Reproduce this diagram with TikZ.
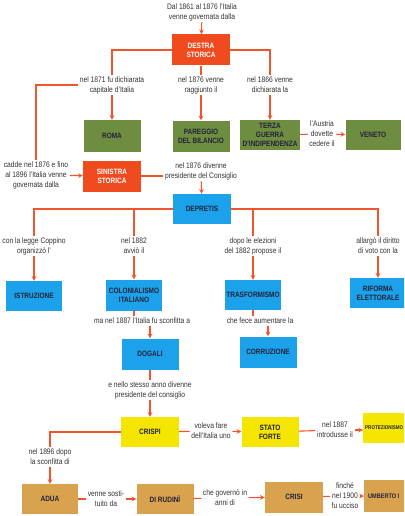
\documentclass[tikz,border=0pt]{standalone}
\usepackage{fontspec}
\setmainfont{Liberation Sans}[FakeStretch=0.84]
\usepackage{xcolor}
\usetikzlibrary{arrows}
\definecolor{rosso}{HTML}{F04B1F}
\definecolor{verdeoliva}{HTML}{6E8D40}
\definecolor{azzurro}{HTML}{1CA2EA}
\definecolor{giallo}{HTML}{F4E600}
\definecolor{ocra}{HTML}{D9A24E}
\definecolor{arancio}{HTML}{F0542A}
\definecolor{scuro}{HTML}{22223A}
\definecolor{grigiotesto}{HTML}{333333}

\begin{document}
\begin{tikzpicture}[x=1pt, y=-1pt,
    every node/.style={font=\fontsize{8}{10}\selectfont, text=grigiotesto},
    box/.style={minimum width=57pt, minimum height=30pt, inner sep=1pt, align=center, text=scuro, font=\fontsize{7.7}{9.2}\selectfont\bfseries},
    boxrossa/.style={box, fill=rosso, text=white},
    boxverde/.style={box, fill=verdeoliva},
    boxazzurra/.style={box, fill=azzurro},
    boxgialla/.style={box, fill=giallo},
    boxocra/.style={box, fill=ocra},
    testo/.style={align=center, inner sep=1.5pt},
    linea/.style={draw=arancio, line width=1.1pt},
    freccia/.style={linea, ->, >=stealth}]
        \useasboundingbox (0,0) rectangle (404,516);
        \clip (0,0) rectangle (404,516);
        \fill[white] (0,0) rectangle (404,516);

        % destra storica
        \node[testo] (inizio) at (202,12) {Dal 1861 al 1876 l'Italia\\venne governata dalla};
        \node[boxrossa, minimum width=58pt, minimum height=31pt] (destra) at (201,50) {DESTRA\\STORICA};
        \node[testo] (l1871) at (112,85) {nel 1871 fu dichiarata\\capitale d'Italia};
        \node[testo] (l1876a) at (201,85) {nel 1876 venne\\raggiunto il};
        \node[testo] (l1866) at (270,85) {nel 1866 venne\\dichiarata la};
        \node[boxverde, minimum height=32pt] (roma) at (112,136) {ROMA};
        \node[boxverde, minimum height=31pt] (pareggio) at (201,136) {PAREGGIO\\DEL BILANCIO};
        \node[boxverde, minimum width=60pt] (terza) at (270,135) {TERZA\\GUERRA\\D'INDIPENDENZA};
        \node[testo] (laustria) at (322,134) {l'Austria\\dovette\\cedere il};
        \node[boxverde, minimum width=55pt] (veneto) at (373,135) {VENETO};

        % sinistra storica e Depretis
        \node[testo] (lcadde) at (36,175) {cadde nel 1876 e fino\\al 1896 l'Italia venne\\governata dalla};
        \node[boxrossa, minimum width=58pt, minimum height=31pt] (sinistra) at (112,176) {SINISTRA\\STORICA};
        \node[testo] (l1876b) at (201,171) {nel 1876 divenne\\presidente del Consiglio};
        \node[boxazzurra, minimum width=58pt] (depretis) at (202,209) {DEPRETIS};
        \node[testo] (lcoppino) at (34,246) {con la legge Coppino\\organizzò l'};
        \node[testo] (l1882a) at (134,246) {nel 1882\\avviò il};
        \node[testo] (ldopo) at (253,246) {dopo le elezioni\\del 1882 propose il};
        \node[testo] (lallargo) at (378,246) {allargò il diritto\\di voto con la};
        \node[boxazzurra, minimum width=56pt] (istruzione) at (34,296) {ISTRUZIONE};
        \node[boxazzurra, minimum width=56pt, minimum height=31pt] (colonialismo) at (134,295) {COLONIALISMO\\ITALIANO};
        \node[boxazzurra, minimum width=56pt] (trasformismo) at (253,295) {TRASFORMISMO};
        \node[boxazzurra, minimum width=56pt] (riforma) at (378,293) {RIFORMA\\ELETTORALE};
        \node[testo] (lsconfitta) at (142,321) {ma nel 1887 l'Italia fu sconfitta a};
        \node[testo] (laumentare) at (260,321) {che fece aumentare la};
        \node[boxazzurra, minimum width=57pt, minimum height=31pt] (dogali) at (150,354) {DOGALI};
        \node[boxazzurra, minimum width=57pt, minimum height=31pt] (corruzione) at (268,352) {CORRUZIONE};

        % Crispi e fine secolo
        \node[testo] (lstesso) at (150,390) {e nello stesso anno divenne\\presidente del consiglio};
        \node[boxgialla, minimum width=58pt] (crispi) at (150,432) {CRISPI};
        \node[testo] (lvoleva) at (211,431) {voleva fare\\dell'Italia uno};
        \node[boxgialla] (stato) at (270,432) {STATO\\FORTE};
        \node[testo] (l1887) at (335,430) {nel 1887\\introdusse il};
        \node[boxgialla, anchor=west, inner xsep=2pt, font=\fontsize{5.4}{7}\selectfont\bfseries] (protezionismo) at (363,428) {PROTEZIONISMO\hspace*{20pt}};
        \node[testo] (l1896) at (50,457) {nel 1896 dopo\\la sconfitta di};
        \node[boxocra, minimum width=56pt] (adua) at (50,499) {ADUA};
        \node[testo] (lsostituito) at (106,499) {venne sosti-\\tuito da};
        \node[boxocra, minimum width=57pt] (dirudini) at (165,499) {DI RUDINÌ};
        \node[testo] (lgoverno) at (225,498) {che governò in\\anni di};
        \node[boxocra, minimum width=58pt, minimum height=31pt] (crisi) at (294,497) {CRISI};
        \node[testo] (lfinche) at (345,496) {finché\\nel 1900\\fu ucciso};
        \node[boxocra, anchor=west, inner xsep=2pt, minimum height=32pt, font=\fontsize{6.6}{8}\selectfont\bfseries] (umberto) at (364,496) {\hspace*{2pt}UMBERTO I\hspace*{20pt}};

        \draw[freccia] (inizio) -- (destra);
        \draw[linea] (destra.west) -| (l1871.north);
        \draw[freccia] (l1871) -- (roma);
        \draw[linea] (destra) -- (l1876a);
        \draw[freccia] (l1876a) -- (pareggio);
        \draw[linea] (destra.east) -| (l1866.north);
        \draw[freccia] (l1866) -- (terza);
        \draw[linea] (terza) -- (laustria);
        \draw[freccia] (laustria) -- (veneto);
        \draw[linea] (l1871.west) -| (lcadde.north);
        \draw[freccia] (lcadde) -- (sinistra);
        \draw[linea] (sinistra.east) -- (sinistra.east -| l1876b.west);
        \draw[freccia] (l1876b) -- (depretis);
        \draw[linea] (depretis.west) -| (lcoppino.north);
        \draw[linea] (depretis.west) -| (l1882a.north);
        \draw[linea] (depretis.east) -| (ldopo.north);
        \draw[linea] (depretis.east) -| (lallargo.north);
        \draw[freccia] (lcoppino) -- (istruzione);
        \draw[freccia] (l1882a) -- (colonialismo);
        \draw[freccia] (ldopo) -- (trasformismo);
        \draw[freccia] (lallargo) -- (riforma);
        \draw[linea] (colonialismo) -- (colonialismo |- lsconfitta.north);
        \draw[freccia] (dogali |- lsconfitta.south) -- (dogali);
        \draw[linea] (trasformismo) -- (trasformismo |- laumentare.north);
        \draw[freccia] (corruzione |- laumentare.south) -- (corruzione);
        \draw[linea] (dogali) -- (lstesso);
        \draw[freccia] (lstesso) -- (crispi);
        \draw[linea] (crispi) -- (lvoleva);
        \draw[freccia] (lvoleva) -- (stato);
        \draw[linea] (stato) -- (l1887);
        \draw[freccia] (l1887) -- (l1887 -| protezionismo.west);
        \draw[linea] (crispi.west) -| (l1896.north);
        \draw[freccia] (l1896) -- (adua);
        \draw[linea] (adua) -- (lsostituito);
        \draw[freccia] (lsostituito) -- (dirudini);
        \draw[linea] (dirudini) -- (lgoverno);
        \draw[freccia] (lgoverno) -- (crisi);
        \draw[linea] (crisi) -- (lfinche);
        \draw[freccia] (lfinche) -- (umberto);
    \end{tikzpicture}
\end{document}
